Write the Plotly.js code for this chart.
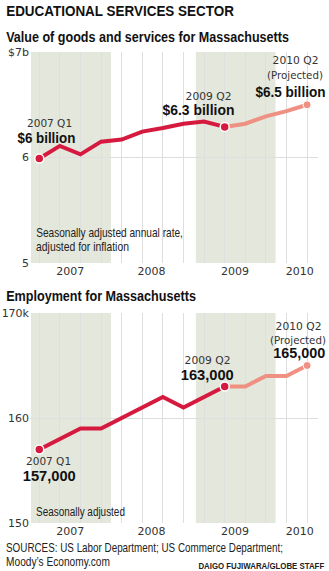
<!DOCTYPE html>
<html><head><meta charset="utf-8">
<script src="https://cdn.plot.ly/plotly-3.0.1.min.js"></script>
<style>html,body{margin:0;padding:0;background:#fff}#chart{width:329px;height:571px}</style>
</head><body><div id="chart"></div>
<script>
// ---- data ----
const quarters = ['2007 Q1','2007 Q2','2007 Q3','2007 Q4','2008 Q1','2008 Q2','2008 Q3','2008 Q4','2009 Q1','2009 Q2','2009 Q3','2009 Q4','2010 Q1','2010 Q2'];
const gdpBillions = [5.99, 6.11, 6.03, 6.15, 6.17, 6.245, 6.28, 6.32, 6.34, 6.29, 6.32, 6.39, 6.44, 6.50];
const employmentK = [157, 158, 159, 159, 160, 161, 162, 161, 162, 163, 163, 164, 164, 165];
const lastActualIndex = 9; // 2009 Q2; afterwards projected
const yearLabels = ['2007','2008','2009','2010'];
const yearLabelPos = [1.5, 5.45, 9.5, 12.65];
const shadedYears = [[-0.4, 3.48], [7.6, 11.47]];
const gdpTickVals = [5, 6, 7], gdpTickText = ['5', '6', '$7b'];
const empTickVals = [150, 160, 170], empTickText = ['150', '160', '170k'];

const idx = quarters.map((q, i) => i);
const actX = idx.slice(0, lastActualIndex + 1);
const projX = idx.slice(lastActualIndex);

const RED = '#d6193e', SALMON = '#ef9182', SHADE = '#e4e7db', GRID = '#dedede';
const SANS = '"Liberation Sans", Arial, sans-serif';
const LIGHT = '"DejaVu Sans", sans-serif';

function lineTraces(vals, xa, ya) {
  const pick = arr => arr.map(i => vals[i]);
  return [
    {x: projX, y: pick(projX), xaxis: xa, yaxis: ya, mode: 'lines', line: {color: SALMON, width: 4}, hoverinfo: 'skip'},
    {x: actX, y: pick(actX), xaxis: xa, yaxis: ya, mode: 'lines', line: {color: RED, width: 4}, hoverinfo: 'skip'},
    {x: [0, lastActualIndex], y: [vals[0], vals[lastActualIndex]], xaxis: xa, yaxis: ya, mode: 'markers',
     marker: {color: RED, size: 9, line: {color: '#fff', width: 1.5}}, hoverinfo: 'skip'},
    {x: [idx.length - 1], y: [vals[idx.length - 1]], xaxis: xa, yaxis: ya, mode: 'markers',
     marker: {color: SALMON, size: 8, line: {color: '#fff', width: 1}}, hoverinfo: 'skip'}
  ];
}

const data = [...lineTraces(gdpBillions, 'x', 'y'), ...lineTraces(employmentK, 'x2', 'y2')];

// geometry helpers (pixel -> paper)
const W = 329, H = 571, ML = 30, MR = 11;
const PW = W - ML - MR;
const px = x => (x - ML) / PW;
const py = y => (H - y) / H;

const fitWidths = []; // target rendered width (px) of each annotation, to emulate condensed type
function ann(text, x, y, fit, opts) {
  fitWidths.push(fit);
  return Object.assign({text: text, x: px(x), y: py(y), xref: 'paper', yref: 'paper', showarrow: false,
    borderpad: 0, xanchor: 'center', yanchor: 'middle', font: {family: LIGHT, size: 11, color: '#333'}}, opts || {});
}
const bold = (s) => ({font: {family: SANS, size: s, color: '#111', weight: 700}});
const reg = (s, anchor) => ({xanchor: anchor || 'left', font: {family: SANS, size: s, color: '#222'}});

const annotations = [
  ann('EDUCATIONAL SERVICES SECTOR', 5, 11, 228, {xanchor: 'left', font: {family: SANS, size: 15.5, color: '#111', weight: 700}}),
  ann('Value of goods and services for Massachusetts', 5, 36, 283, {xanchor: 'left', font: {family: SANS, size: 15, color: '#111', weight: 700}}),
  ann('Employment for Massachusetts', 5, 295, 190, {xanchor: 'left', font: {family: SANS, size: 15, color: '#111', weight: 700}}),
  ann(quarters[0], 49, 124, 45),
  ann('$6 billion', 46, 138, 58, bold(14.5)),
  ann(quarters[lastActualIndex], 208, 97, 46),
  ann('$6.3 billion', 198, 110.5, 72, bold(14.5)),
  ann(quarters[13], 295, 61, 46),
  ann('(Projected)', 295, 75, 56),
  ann('$6.5 billion', 290, 92, 70, bold(14.5)),
  ann('Seasonally adjusted annual rate,', 35, 233, 147, reg(12.5)),
  ann('adjusted for inflation', 35, 247, 93, reg(12.5)),
  ann(quarters[lastActualIndex], 207, 361, 46),
  ann('163,000', 207, 374.5, 53, bold(14.5)),
  ann(quarters[13], 298, 326, 46),
  ann('(Projected)', 298, 340, 56),
  ann('165,000', 298.5, 353.5, 52, bold(14.5)),
  ann(quarters[0], 48, 462, 45),
  ann('157,000', 49, 475.5, 53, bold(14.5)),
  ann('Seasonally adjusted', 35, 512, 89, reg(12.5)),
  ann('SOURCES: US Labor Department; US Commerce Department;', 5, 547.5, 277, reg(12.5)),
  ann('Moody\u2019s Economy.com', 5, 561.5, 104, reg(12.5)),
  ann('DAIGO FUJIWARA/GLOBE STAFF', 325, 565.5, 126, {xanchor: 'right', font: {family: SANS, size: 8.5, color: '#222', weight: 700}})
];

const shapes = [];
['x', 'x2'].forEach((xa, k) => {
  const ya = k === 0 ? 'y domain' : 'y2 domain';
  shadedYears.forEach(([a, b]) => shapes.push({type: 'rect', xref: xa, yref: ya, x0: a, x1: b, y0: 0, y1: 1,
    fillcolor: SHADE, line: {width: 0}, layer: 'below'}));
});

const xaxisBase = {
  range: [-0.45, 13.53], tickmode: 'array', tickvals: yearLabelPos, ticktext: yearLabels,
  showgrid: false, zeroline: false, showline: false, ticks: '',
  tickfont: {family: LIGHT, size: 11, color: '#333'},
  minor: {tickmode: 'linear', tick0: 0, dtick: 1, showgrid: true, gridcolor: GRID, gridwidth: 1, ticks: ''},
  fixedrange: true
};
const yaxisBase = {
  tickmode: 'array', showgrid: true, gridcolor: GRID, gridwidth: 1, zeroline: false, showline: false, ticks: '',
  tickfont: {family: LIGHT, size: 11, color: '#333'}, ticklabelstandoff: 0, fixedrange: true
};

const layout = {
  width: W, height: H, margin: {l: ML, r: MR, t: 0, b: 0}, showlegend: false,
  paper_bgcolor: '#fff', plot_bgcolor: 'rgba(0,0,0,0)',
  xaxis: Object.assign({}, xaxisBase, {anchor: 'y', domain: [0, 1]}),
  xaxis2: Object.assign({}, xaxisBase, {anchor: 'y2', domain: [0, 1]}),
  yaxis: Object.assign({}, yaxisBase, {domain: [py(263), py(52)], range: [5, 7], tickvals: gdpTickVals, ticktext: gdpTickText, anchor: 'x'}),
  yaxis2: Object.assign({}, yaxisBase, {domain: [py(523), py(313)], range: [150, 170], tickvals: empTickVals, ticktext: empTickText, anchor: 'x2'}),
  shapes: shapes, annotations: annotations
};

Plotly.newPlot('chart', data, layout, {staticPlot: true, displayModeBar: false}).then(gd => {
  // squeeze texts horizontally to mimic the condensed typeface of the original
  annotations.forEach((a, i) => {
    const t = gd.querySelector('.annotation[data-index="' + i + '"] text.annotation-text');
    if (!t || !fitWidths[i]) return;
    const w = t.getBBox().width;
    if (!w) return;
    const s = fitWidths[i] / w;
    t.style.transformBox = 'fill-box';
    t.style.transformOrigin = a.xanchor === 'left' ? 'left center' : (a.xanchor === 'right' ? 'right center' : 'center');
    t.style.transform = 'scaleX(' + s.toFixed(4) + ')';
  });
});
</script></body></html>
